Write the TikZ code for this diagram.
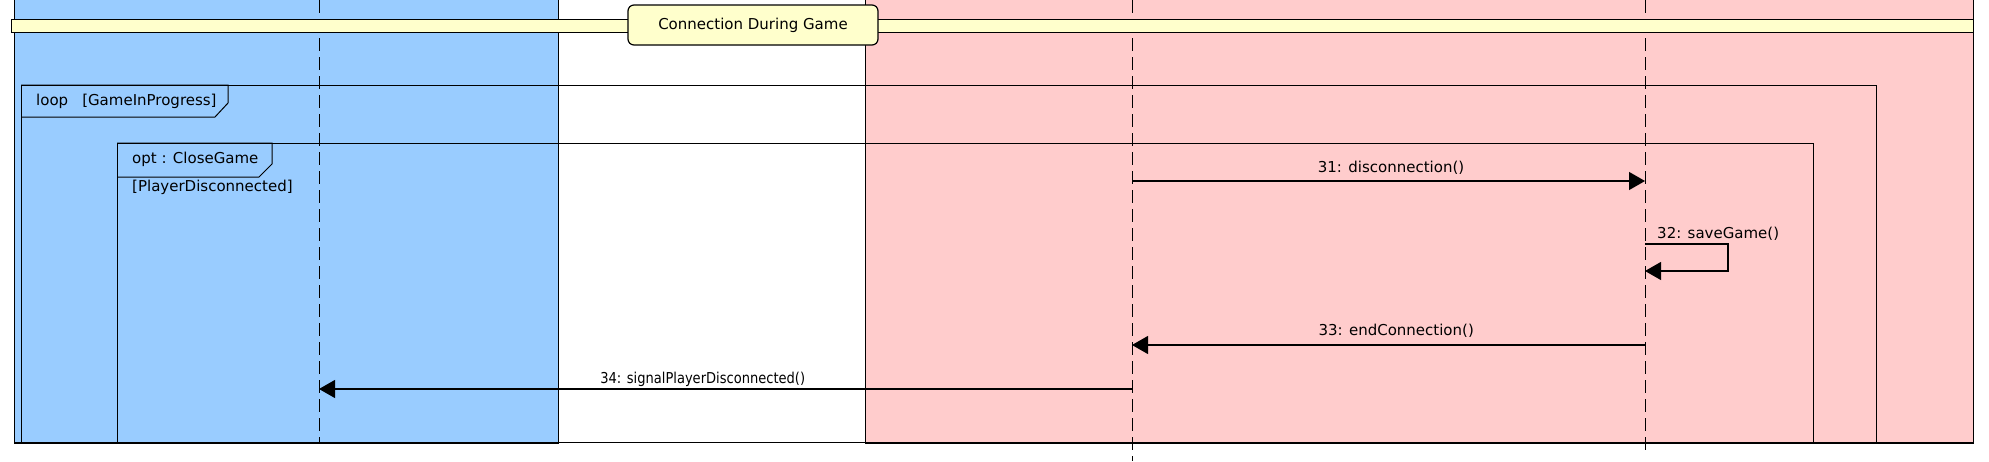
\documentclass[tikz,border=0pt]{standalone}
\usepackage{fontspec}
\setmainfont{DejaVu Sans}
\usetikzlibrary{arrows.meta}
\definecolor{laneblue}{HTML}{99CCFF}
\definecolor{lanepink}{HTML}{FFCCCC}
\definecolor{noteyellow}{HTML}{FFFFCC}
\tikzset{
  lane/.style={draw=black, line width=1pt},
  lifeline/.style={draw=black, line width=1pt, dash pattern=on 13pt off 6pt},
  frameline/.style={draw=black, line width=1pt},
  msg/.style={draw=black, line width=1.1pt, -{Triangle[length=16pt,width=18pt]}},
  msglabel/.style={font=\fontsize{15}{18}\selectfont, inner sep=0pt, anchor=base},
  frametext/.style={font=\fontsize{15}{18}\selectfont, inner sep=0pt, anchor=west},
}
\begin{document}
\begin{tikzpicture}[x=1pt,y=-1pt]
\useasboundingbox (0,0) rectangle (1989,461);
% swimlanes
\fill[laneblue] (14,0) rectangle (558,443);
\fill[lanepink] (865,0) rectangle (1973,443);
\draw[lane] (14,0) -- (14,443) -- (558,443) -- (558,0);
\draw[lane] (865,0) -- (865,443) -- (1973,443) -- (1973,0);
\draw[line width=2pt] (14,443) -- (558,443) (865,443) -- (1973,443);
% lifelines
\coordinate (L1top) at (319,0);
\coordinate (L1bot) at (319,442);
\coordinate (L2top) at (1132,0);
\coordinate (L2bot) at (1132,461);
\coordinate (L3top) at (1645,0);
\coordinate (L3bot) at (1645,455);
\draw[lifeline] (L1top) -- (L1bot);
\draw[lifeline] (L2top) -- (L2bot);
\draw[lifeline] (L3top) -- (L3bot);
% state bar
\draw[frameline, fill=noteyellow] (11,19) rectangle (1973,32);
\node[draw=black, line width=1.2pt, fill=noteyellow, rounded corners=6pt,
      minimum width=250pt, minimum height=40pt, inner sep=0pt,
      font=\fontsize{15}{18}\selectfont] (state) at (753,25) {Connection During Game};
% loop frame
\draw[frameline] (21,85) rectangle (1876,442);
\draw[frameline] (21,85) -- (228,85) -- (228,103) -- (215,117) -- (21,117);
\node[frametext] (looplbl) at (36,101) {loop\hspace{14pt}[GameInProgress]};
% opt frame
\draw[frameline] (117,143) rectangle (1813,442);
\draw[frameline] (117,143) -- (272,143) -- (272,164) -- (259,177) -- (117,177);
\node[frametext] (optlbl) at (132,159) {opt : CloseGame};
\node[frametext] (optguard) at (132,187) {[PlayerDisconnected]};
% messages
\coordinate (m31s) at (1132,181);
\coordinate (m31e) at (1645,181);
\draw[msg] (m31s) -- node[msglabel, pos=0.505, yshift=9pt] {31: disconnection()} (m31e);
\coordinate (m32s) at (1645,244);
\coordinate (m32a) at (1728,244);
\coordinate (m32b) at (1728,271);
\coordinate (m32e) at (1645,271);
\draw[msg] (m32s) -- (m32a) -- (m32b) -- (m32e);
\node[msglabel, anchor=base west] (m32lbl) at (1657,238) {32: saveGame()};
\coordinate (m33s) at (1645,345);
\coordinate (m33e) at (1132,345);
\draw[msg] (m33s) -- node[msglabel, pos=0.485, yshift=9.3pt] {33: endConnection()} (m33e);
\coordinate (m34s) at (1132,389);
\coordinate (m34e) at (319,389);
\draw[msg] (m34s) -- node[msglabel, pos=0.528, yshift=5.5pt] {\scalebox{0.87}[1]{34: signalPlayerDisconnected()}} (m34e);
\end{tikzpicture}
\end{document}
